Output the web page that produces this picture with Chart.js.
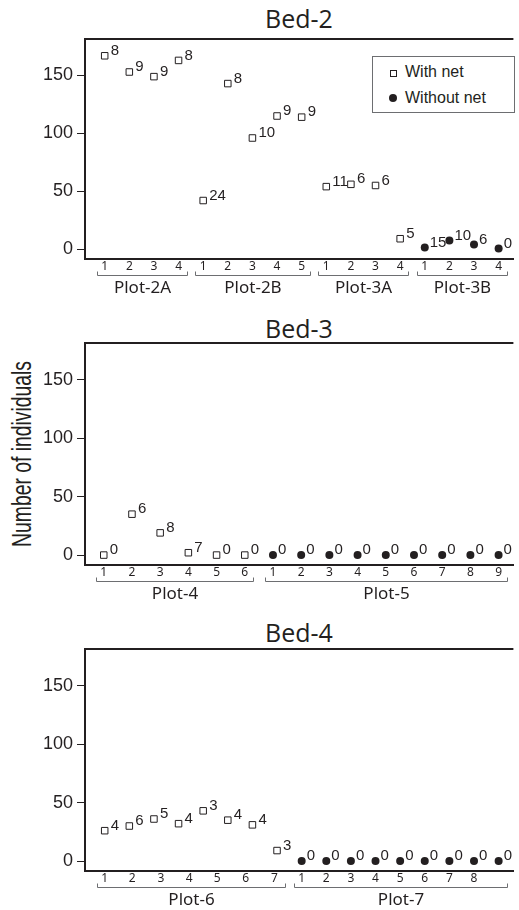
<!DOCTYPE html>
<html>
<head>
<meta charset="utf-8">
<script src="https://cdn.jsdelivr.net/npm/chart.js@4.4.1/dist/chart.umd.min.js"></script>
<style>
  body { margin: 0; background: #fff; width: 519px; height: 910px; position: relative; overflow: hidden; color: #231f20; }
  canvas { position: absolute; left: 0; }
  .title { position: absolute; left: 85px; width: 428px; text-align: center; font: 25px 'Open Sans', 'Noto Sans', sans-serif; line-height: 30px; }
  .ylabel { position: absolute; left: -129px; top: 439px; width: 300px; height: 30px; line-height: 30px; text-align: center;
            transform: rotate(-90deg) scaleX(0.69); font: 28px 'Liberation Sans', Arial, sans-serif; }
  .legend { position: absolute; left: 372px; top: 56px; width: 141px; height: 55px; border: 1px solid #6d6e71; background: #fff;
            font: 16px 'Liberation Sans', Arial, sans-serif; }
  .legend div { position: absolute; left: 32px; line-height: 20px; }
  .sq { position: absolute; left: 17px; top: 13px; width: 5px; height: 5px; border: 1px solid #231f20; }
  .dot { position: absolute; left: 16px; top: 37px; width: 8px; height: 8px; border-radius: 50%; background: #231f20; }
</style>
</head>
<body>
<div class="title" style="top:3px">Bed-2</div>
<div class="title" style="top:313px">Bed-3</div>
<div class="title" style="top:617px">Bed-4</div>
<div class="ylabel">Number of individuals</div>

<canvas id="bed2" width="519" height="300" style="top:0"></canvas>
<canvas id="bed3" width="519" height="305" style="top:300px"></canvas>
<canvas id="bed4" width="519" height="305" style="top:605px"></canvas>

<div class="legend">
  <span class="sq"></span><div style="top:5px">With net</div>
  <span class="dot"></span><div style="top:31px">Without net</div>
</div>

<script>
// Bed-2
const bed2WithNet = [167, 153, 149, 163, 42, 143, 96, 115, 114, 54, 56, 55, 9];
const bed2WithNetN = [8, 9, 9, 8, 24, 8, 10, 9, 9, 11, 6, 6, 5];
const bed2WithoutNet = [1.5, 7.5, 4, 0.5];
const bed2WithoutNetN = [15, 10, 6, 0];
const bed2Ticks = ['1', '2', '3', '4', '1', '2', '3', '4', '5', '1', '2', '3', '4', '1', '2', '3', '4'];
const bed2Plots = ['Plot-2A', 'Plot-2B', 'Plot-3A', 'Plot-3B'];
const bed2PlotSizes = [4, 5, 4, 4];

// Bed-3
const bed3WithNet = [0, 35, 19, 2, 0, 0];
const bed3WithNetN = [0, 6, 8, 7, 0, 0];
const bed3WithoutNet = [0, 0, 0, 0, 0, 0, 0, 0, 0];
const bed3WithoutNetN = [0, 0, 0, 0, 0, 0, 0, 0, 0];
const bed3Ticks = ['1', '2', '3', '4', '5', '6', '1', '2', '3', '4', '5', '6', '7', '8', '9'];
const bed3Plots = ['Plot-4', 'Plot-5'];
const bed3PlotSizes = [6, 9];

// Bed-4 (tick labels in the figure do not sit on the points)
const bed4WithNet = [26, 30, 36, 32, 43, 35, 31, 9];
const bed4WithNetN = [4, 6, 5, 4, 3, 4, 4, 3];
const bed4WithoutNet = [0, 0, 0, 0, 0, 0, 0, 0, 0];
const bed4WithoutNetN = [0, 0, 0, 0, 0, 0, 0, 0, 0];
const bed4Ticks = ['1', '2', '3', '4', '5', '6', '7', '1', '2', '3', '4', '5', '6', '7', '8'];
const bed4TickAt = [1, 2.12, 3.28, 4.43, 5.57, 6.73, 7.89, 9, 10, 11, 12, 13, 14, 15, 16];
const bed4Plots = ['Plot-6', 'Plot-7'];
const bed4PlotSizes = [8, 9];

const yTicks = [0, 50, 100, 150];
const INK = '#231f20';

// top frame line, x tick labels, brackets and plot names
const framePlugin = {
    id: 'frame',
    afterDraw(chart) {
        const ctx = chart.ctx;
        const area = chart.chartArea;
        const xs = chart.scales.x;
        const opts = chart.options.plugins.frame;
        ctx.save();
        ctx.strokeStyle = INK;
        ctx.lineWidth = 2;
        ctx.beginPath();
        ctx.moveTo(area.left - 1, area.top);
        ctx.lineTo(area.right, area.top);
        ctx.stroke();

        // tick labels
        ctx.fillStyle = INK;
        ctx.font = '12px "Noto Sans", "Open Sans", sans-serif';
        ctx.textAlign = 'center';
        ctx.textBaseline = 'middle';
        opts.ticks.forEach((t, i) => {
            ctx.fillText(t, xs.getPixelForValue(opts.tickAt[i]), area.bottom + 8);
        });

        // brackets under each plot
        ctx.strokeStyle = '#6d6e71';
        ctx.lineWidth = 1;
        ctx.font = '17px "Noto Sans", "Open Sans", sans-serif';
        let start = 1;
        opts.plots.forEach((name, i) => {
            const end = start + opts.sizes[i] - 1;
            const x0 = Math.round(xs.getPixelForValue(start)) - 7.5;
            const x1 = Math.round(xs.getPixelForValue(end)) + 8.5;
            const y = Math.round(area.bottom + 16) + 0.5;
            ctx.beginPath();
            ctx.moveTo(x0, y - 4);
            ctx.lineTo(x0, y);
            ctx.lineTo(x1, y);
            ctx.lineTo(x1, y - 4);
            ctx.stroke();
            ctx.fillText(name, (x0 + x1) / 2, area.bottom + 29);
            start = end + 1;
        });
        ctx.restore();
    },
    afterDatasetsDraw(chart) {
        const ctx = chart.ctx;
        ctx.save();
        ctx.fillStyle = INK;
        ctx.font = '15px "Liberation Sans", Arial, sans-serif';
        ctx.textAlign = 'left';
        ctx.textBaseline = 'middle';
        chart.data.datasets.forEach((ds, di) => {
            const meta = chart.getDatasetMeta(di);
            const dx = ds.pointStyle === 'rect' ? 6 : 5;
            meta.data.forEach((pt, i) => {
                ctx.fillText(String(ds.counts[i]), pt.x + dx, pt.y - 5);
            });
        });
        ctx.restore();
    }
};

function makePanel(id, p) {
    const nWith = p.withNet.length;
    const withPts = p.withNet.map((v, i) => ({ x: i + 1, y: v }));
    const withoutPts = p.withoutNet.map((v, i) => ({ x: nWith + i + 1, y: v }));
    const total = nWith + p.withoutNet.length;
    const tickAt = p.tickAt || p.ticks.map((t, i) => i + 1);

    return new Chart(document.getElementById(id), {
        type: 'scatter',
        data: {
            datasets: [
                {
                    label: 'With net',
                    data: withPts,
                    counts: p.withNetN,
                    pointStyle: 'rect',
                    pointRadius: 4.6,
                    backgroundColor: '#fff',
                    borderColor: INK,
                    borderWidth: 1
                },
                {
                    label: 'Without net',
                    data: withoutPts,
                    counts: p.withoutNetN,
                    pointStyle: 'circle',
                    pointRadius: 4,
                    backgroundColor: INK,
                    borderColor: INK,
                    borderWidth: 0
                }
            ]
        },
        options: {
            responsive: false,
            animation: false,
            events: [],
            layout: { padding: { top: p.top, left: 0, right: 0, bottom: 0 } },
            plugins: {
                legend: { display: false },
                tooltip: { enabled: false },
                frame: { ticks: p.ticks, tickAt: tickAt, plots: p.plots, sizes: p.sizes }
            },
            scales: {
                x: {
                    type: 'linear',
                    min: p.xMin,
                    max: total + p.xPad,
                    grid: { display: false, drawTicks: false },
                    border: { display: true, color: INK, width: 2 },
                    ticks: { display: false },
                    afterFit: s => { s.height = p.axisH; }
                },
                y: {
                    min: -8.5,
                    max: 181.5,
                    afterBuildTicks: s => { s.ticks = yTicks.map(v => ({ value: v })); },
                    grid: { display: true, drawOnChartArea: false, drawTicks: true, tickLength: 8, color: INK, lineWidth: 1 },
                    border: { display: true, color: INK, width: 2 },
                    ticks: {
                        color: INK,
                        padding: 4,
                        font: { family: '"Liberation Sans", Arial, sans-serif', size: 18 }
                    },
                    afterFit: s => { s.width = 85; }
                }
            }
        },
        plugins: [framePlugin]
    });
}

makePanel('bed2', {
    withNet: bed2WithNet, withNetN: bed2WithNetN,
    withoutNet: bed2WithoutNet, withoutNetN: bed2WithoutNetN,
    ticks: bed2Ticks, plots: bed2Plots, sizes: bed2PlotSizes,
    xMin: 0.2, xPad: 0.6, top: 39, axisH: 41
});
makePanel('bed3', {
    withNet: bed3WithNet, withNetN: bed3WithNetN,
    withoutNet: bed3WithoutNet, withoutNetN: bed3WithoutNetN,
    ticks: bed3Ticks, plots: bed3Plots, sizes: bed3PlotSizes,
    xMin: 0.335, xPad: 0.525, top: 43, axisH: 40
});
makePanel('bed4', {
    withNet: bed4WithNet, withNetN: bed4WithNetN,
    withoutNet: bed4WithoutNet, withoutNetN: bed4WithoutNetN,
    ticks: bed4Ticks, tickAt: bed4TickAt, plots: bed4Plots, sizes: bed4PlotSizes,
    xMin: 0.2, xPad: 0.6, top: 44, axisH: 39
});
</script>
</body>
</html>
